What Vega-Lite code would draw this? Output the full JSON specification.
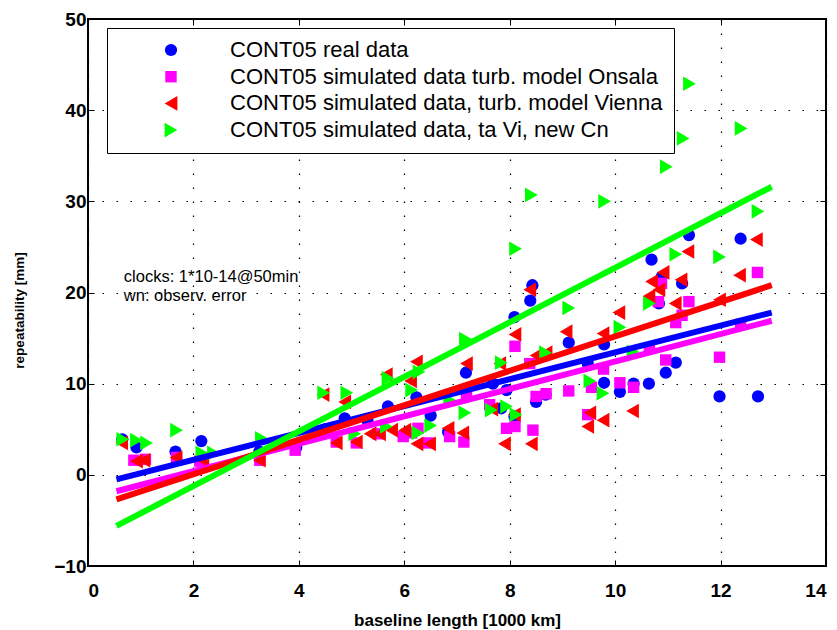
{
  "$schema": "https://vega.github.io/schema/vega-lite/v6.json",
  "width": 738,
  "height": 547,
  "autosize": {"type": "none"},
  "padding": {"left": 88, "top": 19, "right": 11, "bottom": 64},
  "background": "white",
  "config": {
    "font": "Liberation Sans",
    "view": {"stroke": "black", "strokeWidth": 2},
    "axis": {
      "labelFont": "Liberation Sans",
      "labelFontSize": 19,
      "labelFontWeight": "bold",
      "labelColor": "black",
      "titleFont": "Liberation Sans",
      "titleFontWeight": "bold",
      "titleColor": "black",
      "domain": false,
      "tickColor": "black",
      "tickWidth": 1,
      "gridColor": "black",
      "gridDash": [1.5, 12.5],
      "gridWidth": 1.2,
      "gridOpacity": 1
    },
    "legend": {
      "orient": "none", "legendX": 19, "legendY": 9, "title": null,
      "fillColor": "white", "strokeColor": "black", "padding": 11,
      "labelFontSize": 22, "labelFont": "Liberation Sans", "labelColor": "black", "labelLimit": 700,
      "symbolOffset": 42, "labelOffset": 48, "rowPadding": 4.7, "symbolStrokeWidth": 0
    }
  },
  "datasets": {
    "pts": [
      {"s":"a","x":0.65,"y":3.9},{"s":"a","x":0.92,"y":3.0},{"s":"a","x":1.66,"y":2.55},{"s":"a","x":2.15,"y":3.7},{"s":"a","x":3.25,"y":2.55},{"s":"a","x":3.95,"y":3.0},{"s":"a","x":4.5,"y":5.0},{"s":"a","x":4.87,"y":6.2},{"s":"a","x":5.3,"y":6.0},{"s":"a","x":5.69,"y":7.5},{"s":"a","x":6.23,"y":8.5},{"s":"a","x":6.5,"y":6.5},{"s":"a","x":6.83,"y":4.7},{"s":"a","x":7.17,"y":11.2},{"s":"a","x":7.68,"y":10.0},{"s":"a","x":7.84,"y":7.3},{"s":"a","x":7.94,"y":9.3},{"s":"a","x":8.09,"y":17.3},{"s":"a","x":8.09,"y":6.4},{"s":"a","x":8.39,"y":19.1},{"s":"a","x":8.43,"y":20.8},{"s":"a","x":8.5,"y":8.0},{"s":"a","x":8.68,"y":8.8},{"s":"a","x":9.12,"y":14.5},{"s":"a","x":9.48,"y":12.2},{"s":"a","x":9.79,"y":14.3},{"s":"a","x":9.79,"y":10.1},{"s":"a","x":10.09,"y":9.1},{"s":"a","x":10.35,"y":10.0},{"s":"a","x":10.64,"y":10.0},{"s":"a","x":10.69,"y":23.6},{"s":"a","x":10.83,"y":18.8},{"s":"a","x":10.88,"y":21.7},{"s":"a","x":10.96,"y":11.2},{"s":"a","x":11.15,"y":12.3},{"s":"a","x":11.27,"y":21.0},{"s":"a","x":11.4,"y":26.3},{"s":"a","x":11.98,"y":8.6},{"s":"a","x":12.38,"y":25.9},{"s":"a","x":12.71,"y":8.6},
      {"s":"b","x":0.87,"y":1.6},{"s":"b","x":1.09,"y":1.7},{"s":"b","x":1.68,"y":1.9},{"s":"b","x":2.12,"y":1.5},{"s":"b","x":3.26,"y":1.6},{"s":"b","x":3.93,"y":2.7},{"s":"b","x":4.71,"y":3.6},{"s":"b","x":5.09,"y":3.5},{"s":"b","x":5.5,"y":4.5},{"s":"b","x":5.98,"y":4.2},{"s":"b","x":6.14,"y":4.6},{"s":"b","x":6.26,"y":5.1},{"s":"b","x":6.45,"y":3.5},{"s":"b","x":6.86,"y":4.2},{"s":"b","x":7.13,"y":3.6},{"s":"b","x":7.18,"y":8.7},{"s":"b","x":7.62,"y":7.7},{"s":"b","x":7.94,"y":5.1},{"s":"b","x":8.1,"y":5.3},{"s":"b","x":8.1,"y":14.1},{"s":"b","x":8.38,"y":12.2},{"s":"b","x":8.44,"y":4.9},{"s":"b","x":8.5,"y":8.6},{"s":"b","x":8.69,"y":8.9},{"s":"b","x":9.12,"y":9.2},{"s":"b","x":9.48,"y":6.6},{"s":"b","x":9.55,"y":9.6},{"s":"b","x":9.78,"y":11.6},{"s":"b","x":10.09,"y":10.1},{"s":"b","x":10.35,"y":9.6},{"s":"b","x":10.65,"y":13.9},{"s":"b","x":10.82,"y":19.0},{"s":"b","x":10.88,"y":21.0},{"s":"b","x":10.96,"y":12.6},{"s":"b","x":11.15,"y":16.7},{"s":"b","x":11.27,"y":17.5},{"s":"b","x":11.4,"y":19.0},{"s":"b","x":11.98,"y":12.9},{"s":"b","x":12.38,"y":16.5},{"s":"b","x":12.7,"y":22.2},
      {"s":"c","x":0.64,"y":3.5},{"s":"c","x":0.92,"y":1.5},{"s":"c","x":1.06,"y":1.6},{"s":"c","x":1.67,"y":1.9},{"s":"c","x":2.18,"y":1.6},{"s":"c","x":3.25,"y":1.6},{"s":"c","x":4.46,"y":8.8},{"s":"c","x":4.71,"y":3.5},{"s":"c","x":4.87,"y":8.0},{"s":"c","x":5.09,"y":3.6},{"s":"c","x":5.35,"y":4.5},{"s":"c","x":5.53,"y":4.5},{"s":"c","x":5.66,"y":11.0},{"s":"c","x":5.76,"y":4.9},{"s":"c","x":6.01,"y":4.9},{"s":"c","x":6.12,"y":10.3},{"s":"c","x":6.23,"y":12.4},{"s":"c","x":6.24,"y":3.4},{"s":"c","x":6.48,"y":3.4},{"s":"c","x":6.83,"y":5.1},{"s":"c","x":7.11,"y":4.6},{"s":"c","x":7.18,"y":12.2},{"s":"c","x":7.66,"y":7.2},{"s":"c","x":7.81,"y":12.2},{"s":"c","x":7.9,"y":3.4},{"s":"c","x":8.09,"y":6.6},{"s":"c","x":8.1,"y":15.4},{"s":"c","x":8.38,"y":20.3},{"s":"c","x":8.41,"y":3.4},{"s":"c","x":8.5,"y":13.1},{"s":"c","x":8.69,"y":13.4},{"s":"c","x":9.07,"y":15.7},{"s":"c","x":9.48,"y":5.3},{"s":"c","x":9.52,"y":6.8},{"s":"c","x":9.77,"y":6.0},{"s":"c","x":9.77,"y":15.5},{"s":"c","x":10.07,"y":17.8},{"s":"c","x":10.33,"y":7.0},{"s":"c","x":10.64,"y":19.6},{"s":"c","x":10.69,"y":21.2},{"s":"c","x":10.83,"y":20.3},{"s":"c","x":10.91,"y":22.2},{"s":"c","x":11.14,"y":18.8},{"s":"c","x":11.25,"y":21.4},{"s":"c","x":11.38,"y":24.5},{"s":"c","x":11.98,"y":19.2},{"s":"c","x":12.36,"y":21.9},{"s":"c","x":12.68,"y":25.8},
      {"s":"d","x":0.66,"y":3.9},{"s":"d","x":0.92,"y":3.8},{"s":"d","x":1.11,"y":3.5},{"s":"d","x":1.68,"y":4.9},{"s":"d","x":2.16,"y":2.4},{"s":"d","x":2.38,"y":2.4},{"s":"d","x":3.29,"y":4.0},{"s":"d","x":4.47,"y":9.0},{"s":"d","x":4.91,"y":9.0},{"s":"d","x":5.06,"y":4.5},{"s":"d","x":5.66,"y":5.3},{"s":"d","x":5.69,"y":10.6},{"s":"d","x":6.14,"y":9.3},{"s":"d","x":6.26,"y":4.6},{"s":"d","x":6.28,"y":11.3},{"s":"d","x":6.5,"y":5.4},{"s":"d","x":6.86,"y":8.2},{"s":"d","x":7.15,"y":6.8},{"s":"d","x":7.16,"y":14.9},{"s":"d","x":7.65,"y":7.1},{"s":"d","x":7.84,"y":12.3},{"s":"d","x":7.94,"y":7.5},{"s":"d","x":8.11,"y":24.8},{"s":"d","x":8.12,"y":6.6},{"s":"d","x":8.41,"y":30.7},{"s":"d","x":8.68,"y":13.4},{"s":"d","x":9.12,"y":18.3},{"s":"d","x":9.52,"y":10.3},{"s":"d","x":9.77,"y":8.95},{"s":"d","x":9.8,"y":30.0},{"s":"d","x":10.09,"y":16.2},{"s":"d","x":10.34,"y":13.5},{"s":"d","x":10.65,"y":18.8},{"s":"d","x":10.97,"y":33.8},{"s":"d","x":11.15,"y":24.2},{"s":"d","x":11.29,"y":36.9},{"s":"d","x":11.41,"y":42.9},{"s":"d","x":11.98,"y":23.9},{"s":"d","x":12.39,"y":38.0},{"s":"d","x":12.71,"y":28.9}
    ],
    "fits": [
      {"s":"a","x":0.54,"y":-0.5},{"s":"a","x":12.97,"y":17.8},
      {"s":"b","x":0.54,"y":-1.8},{"s":"b","x":12.97,"y":16.9},
      {"s":"c","x":0.54,"y":-2.7},{"s":"c","x":12.97,"y":20.8},
      {"s":"d","x":0.54,"y":-5.6},{"s":"d","x":12.97,"y":31.6}
    ],
    "notes": [
      {"x":0.68,"y":21.1,"t":"clocks: 1*10-14@50min"},
      {"x":0.68,"y":19.1,"t":"wn: observ. error"}
    ]
  },
  "resolve": {"axis": {"x": "independent", "y": "independent"}},
  "layer": [
    {
      "data": {"name": "pts"},
      "mark": {"type": "point", "filled": true, "opacity": 1},
      "encoding": {
        "x": {"field": "x", "type": "quantitative", "scale": {"domain": [0, 14], "nice": false, "zero": false},
          "axis": {"values": [0,2,4,6,8,10,12,14], "title": "baseline length [1000 km]", "titleFontSize": 17, "grid": true, "tickSize": -6, "labelPadding": 21, "titlePadding": 12}},
        "y": {"field": "y", "type": "quantitative", "scale": {"domain": [-10, 50], "nice": false, "zero": false},
          "axis": {"values": [-10,0,10,20,30,40,50], "title": "repeatability [mm]", "titleFontSize": 13.5, "titleY": 291, "grid": true, "tickSize": -6, "labelPadding": 8, "titlePadding": 27}},
        "color": {"field": "s", "type": "nominal",
          "scale": {"domain": ["a","b","c","d"], "range": ["#0000ff","#ff00ff","#ff0000","#00ff00"]},
          "legend": {"orient": "none", "legendX": 19, "legendY": 9, "title": null,
            "labelExpr": "{'a':'CONT05 real data','b':'CONT05 simulated data turb. model Onsala','c':'CONT05 simulated data, turb. model Vienna','d':'CONT05 simulated data, ta Vi, new Cn'}[datum.label]",
            "encode": {"legend": {"update": {"strokeWidth": {"value": 2.5}}}}}},
        "shape": {"field": "s", "type": "nominal",
          "scale": {"domain": ["a","b","c","d"], "range": ["circle","square","triangle-left","triangle-right"]},
          "legend": {"orient": "none", "legendX": 19, "legendY": 9, "title": null,
            "labelExpr": "{'a':'CONT05 real data','b':'CONT05 simulated data turb. model Onsala','c':'CONT05 simulated data, turb. model Vienna','d':'CONT05 simulated data, ta Vi, new Cn'}[datum.label]",
            "encode": {"legend": {"update": {"strokeWidth": {"value": 2.5}}}}}},
        "size": {"field": "s", "type": "ordinal",
          "scale": {"type": "ordinal", "domain": ["a","b","c","d"], "range": [150, 130, 215, 215]},
          "legend": {"orient": "none", "legendX": 19, "legendY": 9, "title": null,
            "labelExpr": "{'a':'CONT05 real data','b':'CONT05 simulated data turb. model Onsala','c':'CONT05 simulated data, turb. model Vienna','d':'CONT05 simulated data, ta Vi, new Cn'}[datum.label]",
            "encode": {"legend": {"update": {"strokeWidth": {"value": 2.5}}}}}}
      }
    },
    {
      "data": {"name": "fits"},
      "mark": {"type": "line", "strokeWidth": 6, "strokeCap": "butt"},
      "encoding": {
        "x": {"field": "x", "type": "quantitative", "axis": {"orient": "top", "labels": false, "title": null, "grid": false, "tickSize": -6, "values": [0,2,4,6,8,10,12,14]}},
        "y": {"field": "y", "type": "quantitative", "axis": {"orient": "right", "labels": false, "title": null, "grid": false, "tickSize": -6, "values": [-10,0,10,20,30,40,50]}},
        "color": {"field": "s", "type": "nominal", "legend": null},
        "order": {"field": "s"}
      }
    },
    {
      "data": {"name": "notes"},
      "mark": {"type": "text", "align": "left", "baseline": "alphabetic", "font": "Liberation Sans", "fontSize": 16.5, "color": "black"},
      "encoding": {
        "x": {"field": "x", "type": "quantitative", "axis": null},
        "y": {"field": "y", "type": "quantitative", "axis": null},
        "text": {"field": "t"}
      }
    }
  ]
}
